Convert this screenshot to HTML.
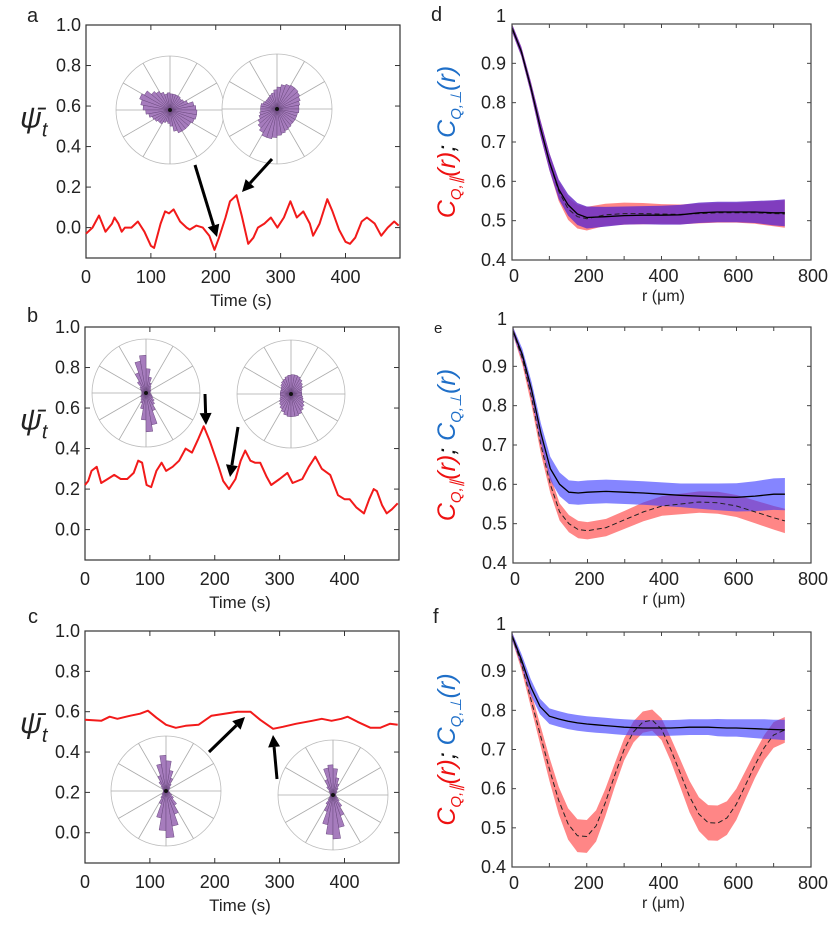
<!DOCTYPE html>
<html><head><meta charset="utf-8">
<style>
html,body{margin:0;padding:0;background:#fff;}
svg text{font-family:"Liberation Sans",sans-serif;fill:#222;}
</style></head>
<body>
<svg id="fig" width="831" height="922" viewBox="0 0 831 922" xmlns="http://www.w3.org/2000/svg"></svg>
<script>
// ---------- Time series data (panels a, b, c) ----------
const tA = [0,10,20,30,40,44,50,55,60,70,80,90,100,105,115,122,128,135,145,155,160,170,180,190,198,205,215,222,232,240,250,258,265,275,285,295,305,315,325,335,345,350,360,372,380,390,400,407,415,425,433,445,455,465,475,482];
const psiA = [-0.03,0.0,0.06,-0.02,0.02,0.05,0.02,-0.02,0.0,0.0,0.03,-0.02,-0.09,-0.10,0.02,0.08,0.07,0.09,0.03,0.0,-0.01,0.01,0.0,-0.04,-0.11,-0.05,0.05,0.13,0.16,0.06,-0.08,-0.05,0.0,0.02,0.05,0.0,0.05,0.13,0.05,0.08,0.02,-0.04,0.02,0.14,0.08,-0.01,-0.07,-0.08,-0.05,0.03,0.05,0.02,-0.04,0.0,0.03,0.01];
const tB = [0,5,10,18,25,35,45,55,65,75,82,88,95,102,110,118,125,135,145,155,165,175,183,192,205,213,222,232,240,247,255,262,270,280,287,300,312,320,335,345,355,365,378,390,400,408,418,430,438,445,450,458,465,473,482];
const psiB = [0.22,0.24,0.29,0.31,0.23,0.25,0.27,0.25,0.25,0.28,0.34,0.33,0.22,0.21,0.29,0.33,0.29,0.31,0.34,0.40,0.38,0.45,0.51,0.44,0.32,0.24,0.20,0.25,0.34,0.39,0.34,0.33,0.33,0.26,0.22,0.25,0.28,0.23,0.25,0.31,0.36,0.30,0.27,0.17,0.15,0.15,0.11,0.08,0.15,0.20,0.19,0.12,0.08,0.10,0.13];
const tC = [0,25,38,50,70,85,97,110,125,140,155,175,195,215,235,255,270,290,305,325,350,365,380,395,405,420,440,455,470,482];
const psiC = [0.56,0.555,0.575,0.565,0.58,0.59,0.605,0.57,0.535,0.52,0.53,0.535,0.58,0.59,0.60,0.60,0.56,0.515,0.525,0.54,0.555,0.565,0.555,0.565,0.575,0.55,0.52,0.52,0.54,0.535];
const timeTicks = [0,100,200,300,400];
const psiTicks = [0.0,0.2,0.4,0.6,0.8,1.0];

// ---------- Correlation data (panels d, e, f) ----------
const rD = [0,25,50,75,100,125,150,175,200,250,300,350,400,450,500,550,600,650,700,730];
const perpD = [0.99,0.93,0.84,0.74,0.65,0.58,0.54,0.517,0.508,0.51,0.513,0.514,0.514,0.515,0.52,0.522,0.522,0.522,0.52,0.52];
const perpBandD = [0.01,0.012,0.015,0.02,0.022,0.025,0.027,0.028,0.028,0.025,0.023,0.023,0.024,0.025,0.026,0.026,0.026,0.028,0.032,0.034];
const parD = [0.99,0.93,0.84,0.74,0.65,0.575,0.53,0.51,0.505,0.515,0.518,0.518,0.517,0.516,0.518,0.52,0.52,0.52,0.518,0.517];
const parBandD = [0.01,0.012,0.015,0.02,0.022,0.025,0.028,0.03,0.03,0.028,0.028,0.027,0.025,0.025,0.025,0.025,0.025,0.028,0.032,0.035];
const rE = [0,25,50,75,100,125,150,175,200,250,300,350,400,450,500,550,600,650,700,730];
const perpE = [0.99,0.93,0.84,0.73,0.64,0.60,0.58,0.578,0.58,0.582,0.58,0.578,0.575,0.572,0.57,0.568,0.567,0.57,0.575,0.575];
const perpBandE = [0.01,0.015,0.02,0.025,0.03,0.03,0.03,0.03,0.03,0.03,0.03,0.03,0.03,0.03,0.032,0.034,0.036,0.038,0.04,0.041];
const parE = [0.99,0.92,0.82,0.70,0.60,0.53,0.50,0.485,0.482,0.49,0.51,0.53,0.545,0.55,0.555,0.553,0.545,0.53,0.515,0.507];
const parBandE = [0.01,0.015,0.02,0.022,0.022,0.022,0.022,0.022,0.022,0.022,0.023,0.024,0.025,0.026,0.027,0.028,0.028,0.029,0.03,0.031];
const rF = [0,25,50,75,100,125,150,175,200,225,250,275,300,325,350,375,400,425,450,475,500,525,550,575,600,625,650,675,700,730];
const perpF = [0.99,0.93,0.86,0.81,0.785,0.778,0.772,0.768,0.765,0.763,0.761,0.759,0.757,0.756,0.755,0.755,0.755,0.755,0.756,0.757,0.757,0.757,0.756,0.755,0.755,0.754,0.753,0.752,0.751,0.75];
const perpBandF = [0.01,0.015,0.02,0.02,0.02,0.02,0.02,0.02,0.02,0.02,0.02,0.02,0.02,0.02,0.02,0.02,0.02,0.02,0.02,0.02,0.02,0.02,0.022,0.022,0.022,0.023,0.024,0.025,0.025,0.026];
const parF = [0.99,0.92,0.83,0.74,0.65,0.57,0.51,0.48,0.478,0.505,0.565,0.635,0.70,0.745,0.77,0.775,0.752,0.70,0.64,0.58,0.535,0.513,0.512,0.525,0.56,0.61,0.66,0.705,0.737,0.75];
const parBandF = [0.01,0.015,0.02,0.025,0.03,0.035,0.04,0.042,0.042,0.04,0.035,0.03,0.028,0.027,0.027,0.027,0.028,0.03,0.035,0.04,0.043,0.045,0.045,0.043,0.04,0.036,0.033,0.032,0.033,0.033];
const rTicks = [0,200,400,600,800];
const cTicks = [0.4,0.5,0.6,0.7,0.8,0.9,1];

// ---------- Rose histogram bins (36 bins, 10deg each, CCW from +x) ----------
const roseA1 = [0.48,0.45,0.35,0.3,0.28,0.3,0.3,0.3,0.3,0.32,0.3,0.35,0.4,0.45,0.55,0.6,0.55,0.5,0.45,0.4,0.35,0.33,0.3,0.3,0.25,0.22,0.25,0.3,0.4,0.45,0.45,0.45,0.45,0.48,0.5,0.5];
const roseA2 = [0.4,0.42,0.45,0.48,0.5,0.5,0.48,0.45,0.4,0.35,0.3,0.28,0.26,0.25,0.25,0.27,0.3,0.3,0.3,0.32,0.35,0.4,0.45,0.5,0.55,0.55,0.52,0.48,0.45,0.42,0.4,0.38,0.38,0.38,0.38,0.4];
const roseB1 = [0.08,0.08,0.1,0.1,0.12,0.15,0.2,0.3,0.45,0.7,0.6,0.4,0.25,0.15,0.12,0.1,0.08,0.08,0.08,0.08,0.1,0.12,0.12,0.15,0.2,0.3,0.5,0.72,0.6,0.35,0.25,0.2,0.15,0.12,0.1,0.08];
const roseB2 = [0.2,0.2,0.22,0.25,0.28,0.32,0.35,0.36,0.36,0.35,0.33,0.3,0.28,0.25,0.22,0.2,0.2,0.2,0.2,0.2,0.22,0.25,0.28,0.32,0.36,0.4,0.42,0.42,0.42,0.4,0.36,0.32,0.28,0.24,0.22,0.2];
const roseC1 = [0.05,0.05,0.06,0.08,0.1,0.15,0.25,0.38,0.55,0.65,0.5,0.3,0.2,0.12,0.08,0.06,0.05,0.05,0.05,0.05,0.06,0.08,0.1,0.15,0.25,0.5,0.72,0.85,0.65,0.45,0.3,0.18,0.12,0.08,0.06,0.05];
const roseC2 = [0.05,0.05,0.06,0.08,0.1,0.15,0.22,0.32,0.48,0.55,0.5,0.3,0.18,0.1,0.07,0.06,0.05,0.05,0.05,0.05,0.06,0.08,0.12,0.2,0.32,0.55,0.72,0.8,0.6,0.4,0.25,0.15,0.1,0.07,0.06,0.05];

const NS = "http://www.w3.org/2000/svg";
const svg = document.getElementById('fig');
function mk(tag, attrs, parent){ const e=document.createElementNS(NS,tag); for(const k in attrs) e.setAttribute(k,attrs[k]); (parent||svg).appendChild(e); return e; }

function timePanel(name, box, ts, vals){
  const g = mk('g',{});
  
  
  const xs = v => box.l + (v-0)/(484-0)*(box.r-box.l);
  const ys = v => box.b - (v-(-0.15))/(1.0-(-0.15))*(box.b-box.t);
  const fr = mk('rect',{x:box.l,y:box.t,width:box.r-box.l,height:box.b-box.t,fill:'none',stroke:'#333','stroke-width':1.2},g);
  
  
  timeTicks.forEach(t=>{
    const x=xs(t);
    mk('line',{x1:x,y1:box.b,x2:x,y2:box.b-5,stroke:'#333'},g);
    mk('line',{x1:x,y1:box.t,x2:x,y2:box.t+5,stroke:'#333'},g);
    const tx=mk('text',{x:x,y:box.b+25,'text-anchor':'middle','font-size':18},g);
    tx.textContent=t;
    
    
  });
  psiTicks.forEach(v=>{
    const y=ys(v);
    mk('line',{x1:box.l,y1:y,x2:box.l+5,y2:y,stroke:'#333'},g);
    mk('line',{x1:box.r,y1:y,x2:box.r-5,y2:y,stroke:'#333'},g);
    const tx=mk('text',{x:box.l-5,y:y+6,'text-anchor':'end','font-size':18},g);
    tx.textContent=v.toFixed(1);
    
    
  });
  const pts = ts.map((t,i)=>xs(t).toFixed(1)+','+ys(vals[i]).toFixed(1)).join(' ');
  const ln = mk('polyline',{points:pts,fill:'none',stroke:'#f21a1a','stroke-width':2,'stroke-linejoin':'round'},g);
  
  
  const xl=mk('text',{x:(box.l+box.r)/2-2,y:box.b+48,'text-anchor':'middle','font-size':17},g);
  xl.textContent='Time (s)';
  
  
  const yl=mk('text',{x:20,y:(box.t+box.b)/2-14,'font-size':30,'font-style':'italic','font-family':'Liberation Serif, serif'},g);
  yl.innerHTML='ψ̄<tspan font-size="20" dy="9">t</tspan>';
  
  
}

function rose(name, cx, cy, R, bins){
  const g = mk('g',{});
  
  
  mk('circle',{cx:cx,cy:cy,r:R,fill:'#fff',stroke:'#bbb','stroke-width':0.8},g);
  for(let k=0;k<12;k++){
    const a=k*Math.PI/6;
    mk('line',{x1:cx,y1:cy,x2:cx+R*Math.cos(a),y2:cy-R*Math.sin(a),stroke:'#aaa','stroke-width':0.8},g);
  }
  const n=bins.length;
  bins.forEach((v,i)=>{
    const a1=i*2*Math.PI/n, a2=(i+1)*2*Math.PI/n, rr=v*R;
    const p=mk('path',{d:`M${cx},${cy} L${cx+rr*Math.cos(a1)},${cy-rr*Math.sin(a1)} L${cx+rr*Math.cos(a2)},${cy-rr*Math.sin(a2)} Z`,fill:'#a67cbd',stroke:'#6b4a7f','stroke-width':0.5},g);
    
    
  });
  mk('circle',{cx:cx,cy:cy,r:2,fill:'#111'},g);
}

function arrow(name, x1,y1,x2,y2){
  const dx=x2-x1, dy=y2-y1, L=Math.hypot(dx,dy), ux=dx/L, uy=dy/L;
  const hb=12, hw=6;
  const bx=x2-ux*hb, by=y2-uy*hb;
  const g=mk('g',{});
  
  
  mk('line',{x1:x1,y1:y1,x2:bx,y2:by,stroke:'#000','stroke-width':3},g);
  mk('polygon',{points:`${x2},${y2} ${bx-uy*hw},${by+ux*hw} ${bx+uy*hw},${by-ux*hw}`,fill:'#000'},g);
}

function corrPanel(name, box, rs, perp, perpB, par, parB, purpleOverlap){
  const g = mk('g',{});
  
  
  const xs = v => box.l + v/800*(box.r-box.l);
  const ys = v => box.b - (v-0.4)/0.6*(box.b-box.t);
  function band(m,b,color,op,nm){
    const up=rs.map((r,i)=>xs(r).toFixed(1)+','+ys(m[i]+b[i]).toFixed(1));
    const dn=rs.map((r,i)=>xs(r).toFixed(1)+','+ys(m[i]-b[i]).toFixed(1)).reverse();
    const p=mk('polygon',{points:up.concat(dn).join(' '),fill:color,'fill-opacity':op},g);
    
    
  }
  band(par,parB,'#ff3b3b',0.62,name+'-parallel-band');
  band(perp,perpB,purpleOverlap?'#6a30c8':'#3a3aff',purpleOverlap?0.85:0.62,name+'-perpendicular-band');
  const dl=mk('polyline',{points:rs.map((r,i)=>xs(r).toFixed(1)+','+ys(par[i]).toFixed(1)).join(' '),fill:'none',stroke:'#222','stroke-width':1,'stroke-dasharray':'5,3'},g);
  
  
  const sl=mk('polyline',{points:rs.map((r,i)=>xs(r).toFixed(1)+','+ys(perp[i]).toFixed(1)).join(' '),fill:'none',stroke:'#000','stroke-width':1.3},g);
  
  
  const fr=mk('rect',{x:box.l,y:box.t,width:box.r-box.l,height:box.b-box.t,fill:'none',stroke:'#444','stroke-width':1.2},g);
  
  
  for(let r=0;r<=800;r+=100){
    const x=xs(r);
    mk('line',{x1:x,y1:box.b,x2:x,y2:box.b-4,stroke:'#444'},g);
    mk('line',{x1:x,y1:box.t,x2:x,y2:box.t+4,stroke:'#444'},g);
  }
  rTicks.forEach(r=>{
    const tx=mk('text',{x:xs(r)+2,y:box.b+22,'text-anchor':'middle','font-size':18,fill:'#333'},g);
    tx.textContent=r;
    
    
  });
  cTicks.forEach(v=>{
    const y=ys(v);
    mk('line',{x1:box.l,y1:y,x2:box.l+4,y2:y,stroke:'#444'},g);
    mk('line',{x1:box.r,y1:y,x2:box.r-4,y2:y,stroke:'#444'},g);
    const tx=mk('text',{x:box.l-6,y:y+(v===1?-2:6),'text-anchor':'end','font-size':18,fill:'#333'},g);
    tx.textContent=String(v);
    
    
  });
  const xl=mk('text',{x:(box.l+box.r)/2+2,y:box.b+41,'text-anchor':'middle','font-size':16,fill:'#333'},g);
  xl.textContent='r (μm)';
  
  
  const cy=(box.t+box.b)/2;
  const yl=mk('text',{x:0,y:0,'text-anchor':'middle','font-size':25,'font-style':'italic','font-family':'Liberation Serif, serif',transform:`translate(455,${cy}) rotate(-90)`},g);
  yl.innerHTML='<tspan fill="#ee1111">C<tspan font-size="15" dy="6">Q,∥</tspan><tspan dy="-6">(r)</tspan></tspan><tspan fill="#111">; </tspan><tspan fill="#1f6fc8">C<tspan font-size="15" dy="6">Q,⊥</tspan><tspan dy="-6">(r)</tspan></tspan>';
  
  
}

function letter(t,x,y,s){
  const e=mk('text',{x:x,y:y,'font-size':s,fill:'#111'});
  e.textContent=t;
  
  
}

const boxA={l:86,r:400,t:25,b:258};
const boxB={l:85,r:399,t:327,b:560};
const boxC={l:85,r:399,t:631,b:863};
timePanel('panel-a',boxA,tA,psiA);
timePanel('panel-b',boxB,tB,psiB);
timePanel('panel-c',boxC,tC,psiC);
rose('rose-a1',170,110,54,roseA1);
rose('rose-a2',277,109,55,roseA2);
rose('rose-b1',146,393,54,roseB1);
rose('rose-b2',291,394,54,roseB2);
rose('rose-c1',166,791,55,roseC1);
rose('rose-c2',333,795,55,roseC2);
arrow('arrow-a1',195,165,217,237);
arrow('arrow-a2',272,159,242,192);
arrow('arrow-b1',205,394,206,425);
arrow('arrow-b2',238,427,230,477);
arrow('arrow-c1',209,752,245,717);
arrow('arrow-c2',277,779,273,735);

corrPanel('panel-d',{l:512,r:811,t:24,b:260},rD,perpD,perpBandD,parD,parBandD,true);
corrPanel('panel-e',{l:513,r:811,t:327,b:563},rE,perpE,perpBandE,parE,parBandE,false);
corrPanel('panel-f',{l:512,r:811,t:632,b:867},rF,perpF,perpBandF,parF,parBandF,false);

letter('a',27,22,20);
letter('b',27,322,20);
letter('c',28,623,20);
letter('d',431,21,20);
letter('e',434,333,15);
letter('f',433,623,20);
</script>
</body></html>
